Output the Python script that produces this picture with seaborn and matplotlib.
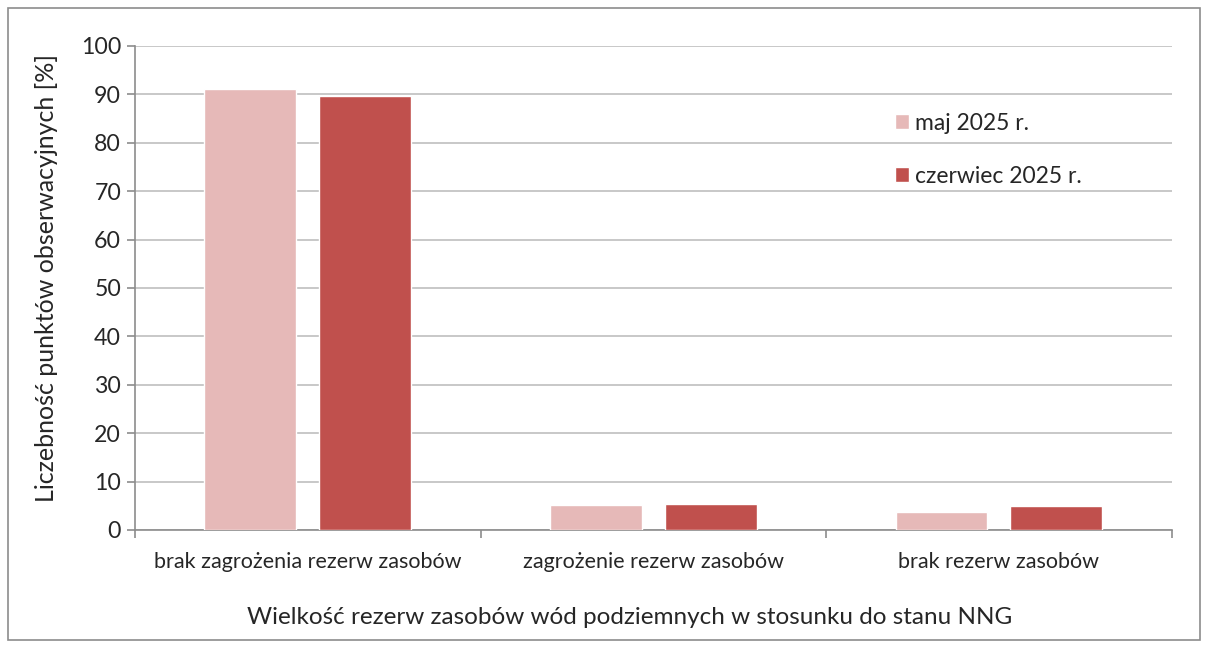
import matplotlib
matplotlib.use("Agg")
import matplotlib.pyplot as plt
import seaborn as sns
import pandas as pd
from matplotlib.patches import Rectangle

categories = ["brak zagrożenia rezerw zasobów", "zagrożenie rezerw zasobów", "brak rezerw zasobów"]
series = ["maj 2025 r.", "czerwiec 2025 r."]
maj = [91.1, 5.2, 3.7]
czerwiec = [89.7, 5.4, 4.9]
colors = ["#E6B9B8", "#C0504D"]

df = pd.DataFrame({
    "kat": categories * 2,
    "okres": [series[0]] * 3 + [series[1]] * 3,
    "val": maj + czerwiec,
})

sns.set_style("white")
plt.rcParams["font.family"] = ["Lato", "DejaVu Sans"]

fig = plt.figure(figsize=(12.08, 6.49), dpi=100)
ax = fig.add_axes([0.1118, 0.1834, 0.8582, 0.7458])

sns.barplot(data=df, x="kat", y="val", hue="okres", palette=colors, width=0.665, gap=0.2,
            ax=ax, saturation=1, zorder=3)

ax.set_ylim(0, 100)
ax.set_xlim(-0.5, 2.5)
ax.set_yticks(range(0, 101, 10))
ax.yaxis.grid(True, color="#BFBFBF", linewidth=1.2, zorder=0)
ax.set_axisbelow(True)
ax.tick_params(axis="y", labelsize=16.7, left=True, length=6, color="#8C8C8C", width=1.2, pad=4)
ax.tick_params(axis="x", which="major", length=0, labelsize=15.5, pad=16)
ax.set_xticks([-0.5, 0.5, 1.5, 2.5], minor=True)
ax.tick_params(axis="x", which="minor", bottom=True, length=6, color="#8C8C8C", width=1.2)
for s in ["top", "right"]:
    ax.spines[s].set_visible(False)
for s in ["left", "bottom"]:
    ax.spines[s].set_color("#8C8C8C")
    ax.spines[s].set_linewidth(1.2)

ax.set_ylabel("Liczebność punktów obserwacyjnych [%]", fontsize=18, labelpad=12)
ax.yaxis.set_label_coords(-0.074, 0.52)
ax.set_xlabel("Wielkość rezerw zasobów wód podziemnych w stosunku do stanu NNG", fontsize=17.5, labelpad=28)
ax.xaxis.set_label_coords(0.477, -0.16)

ax.legend(loc="upper left", bbox_to_anchor=(0.713, 0.905), frameon=False, fontsize=16.5,
          handlelength=0.6, handleheight=0.6, handletextpad=0.3, labelspacing=1.4)

fig.patches.append(Rectangle((8 / 1208, 9 / 649), 1192 / 1208, 632 / 649, transform=fig.transFigure,
                             fill=False, edgecolor="#8C8C8C", linewidth=1.2))

fig.savefig("out.png", dpi=100)
